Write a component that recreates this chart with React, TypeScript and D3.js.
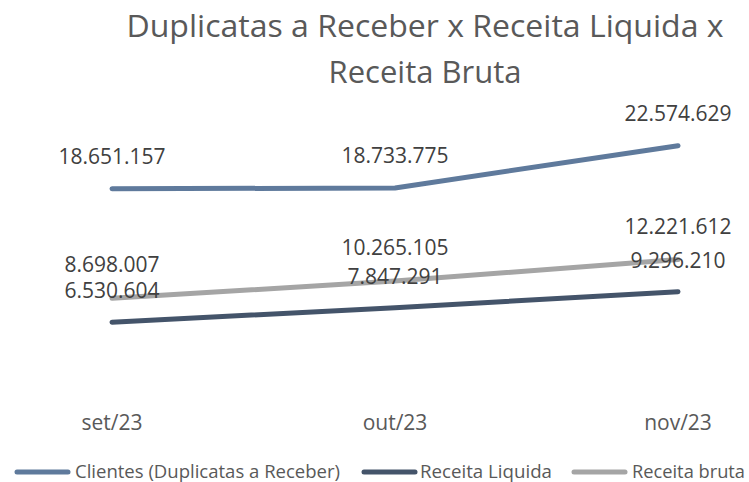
import React from "react";
import * as d3 from "d3";

const months = ["set/23", "out/23", "nov/23"];
const clientes = [18651157, 18733775, 22574629];
const receitaLiquida = [6530604, 7847291, 9296210];
const receitaBruta = [8698007, 10265105, 12221612];

const seriesNames = ["Clientes (Duplicatas a Receber)", "Receita Liquida", "Receita bruta"];
const colors = ["#5f7a9c", "#44546a", "#a5a5a5"];
// label offset above each point
const labelOffsets = [25, 24, 26];

const width = 749,
  height = 482;

const fmt = (v: number) => d3.format(",")(v).replace(/,/g, ".");

const App = () => {
  const xScale = d3.scalePoint<string>().domain(months).range([112, 678]);
  const yScale = d3.scaleLinear().domain([0, 25000000]).range([394, 119]);

  const series = [clientes, receitaLiquida, receitaBruta].map((vals, i) => ({
    name: seriesNames[i],
    color: colors[i],
    off: labelOffsets[i],
    points: vals.map((v, j) => ({ m: months[j], v })),
  }));

  const line = d3
    .line<{ m: string; v: number }>()
    .x((d) => xScale(d.m) as number)
    .y((d) => yScale(d.v));

  // legend layout (line start, text start, text length)
  const legend = [
    { x: 15, tx: 75, len: 265 },
    { x: 362, tx: 420, len: 132 },
    { x: 572, tx: 632, len: 113 },
  ];

  return (
    <svg
      width={width}
      height={height}
      style={{ position: "absolute", left: 0, top: 0, background: "#fff" }}
      fontFamily="'Open Sans', sans-serif"
    >
      <text x={425} y={37} textAnchor="middle" fontSize={31} fill="#595959" textLength={597} lengthAdjust="spacingAndGlyphs">
        Duplicatas a Receber x Receita Liquida x
      </text>
      <text x={425} y={83} textAnchor="middle" fontSize={31} fill="#595959">
        Receita Bruta
      </text>

      {series.map((s) => (
        <path
          key={s.name}
          d={line(s.points) || ""}
          fill="none"
          stroke={s.color}
          strokeWidth={5}
          strokeLinecap="round"
          strokeLinejoin="round"
        />
      ))}

      {series.map((s) =>
        s.points.map((p) => (
          <text
            key={s.name + p.m}
            x={xScale(p.m)}
            y={yScale(p.v) - s.off}
            textAnchor="middle"
            fontSize={21}
            fill="#404040"
          >
            {fmt(p.v)}
          </text>
        ))
      )}

      {months.map((m) => (
        <text key={m} x={xScale(m)} y={430} textAnchor="middle" fontSize={21} fill="#595959">
          {m}
        </text>
      ))}

      {series.map((s, i) => (
        <g key={"lg" + s.name}>
          <line
            x1={legend[i].x + 2}
            x2={legend[i].x + 53}
            y1={472}
            y2={472}
            stroke={s.color}
            strokeWidth={5}
            strokeLinecap="round"
          />
          <text
            x={legend[i].tx}
            y={478}
            fontSize={18}
            fill="#595959"
            textLength={legend[i].len}
            lengthAdjust="spacingAndGlyphs"
          >
            {s.name}
          </text>
        </g>
      ))}
    </svg>
  );
};

export default App;
